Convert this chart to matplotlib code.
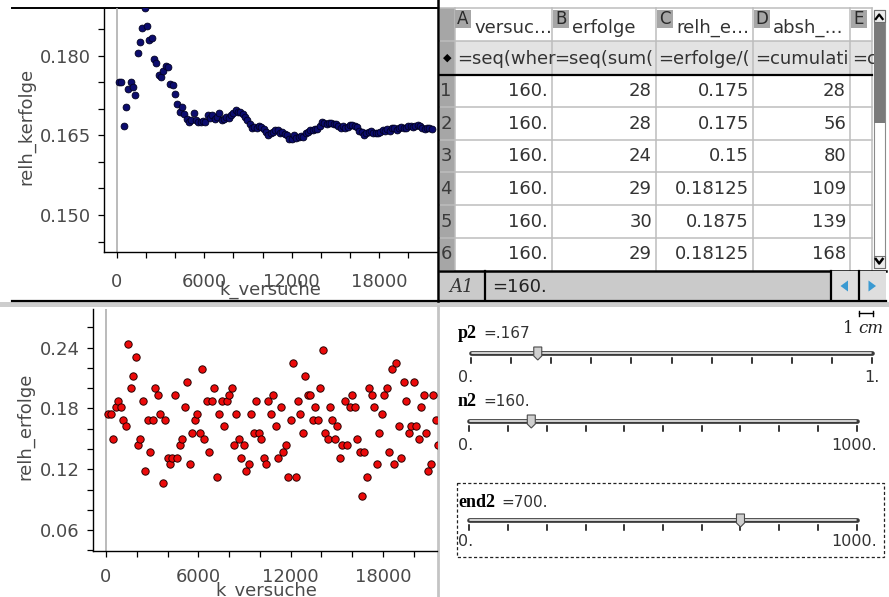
import numpy as np
import matplotlib
matplotlib.use("Agg")
import matplotlib.pyplot as plt
from matplotlib.patches import Rectangle, Polygon
from matplotlib.ticker import MultipleLocator, FuncFormatter

# ---------------------------------------------------------------- data
n2 = 160          # trials per block
p2 = 0.167        # slider p2
end2 = 700        # slider end2
n2_range = (0, 1000)
p2_range = (0, 1)
end2_range = (0, 1000)

# block index k (x axis = k * n2 trials)
block = list(range(1, 136))

# successes per block of 160 trials (lower plot: relh_erfolge = erfolge / 160)
erfolge = [28, 28, 24, 29, 30, 29, 27, 26, 39, 32,
           34, 37, 23, 24, 30, 19, 27, 22, 27, 32,
           31, 28, 17, 27, 21, 20, 21, 31, 21, 23,
           24, 29, 33, 20, 25, 27, 28, 25, 35, 24,
           30, 22, 30, 32, 18, 28, 30, 26, 30, 31,
           32, 23, 28, 24, 21, 23, 19, 20, 28, 25,
           30, 25, 24, 21, 20, 30, 28, 31, 26, 21,
           29, 22, 23, 18, 27, 36, 18, 30, 28, 25,
           34, 31, 31, 27, 29, 27, 32, 38, 25, 24,
           29, 27, 24, 26, 21, 23, 30, 23, 29, 31,
           29, 24, 22, 15, 22, 18, 32, 31, 29, 20,
           25, 28, 31, 32, 22, 35, 20, 36, 26, 21,
           33, 30, 25, 26, 33, 26, 24, 29, 31, 25,
           19, 20, 31, 27, 23]

# cumulative relative frequency (upper plot), in units of 1e-5
relh_kerfolge_e5 = [
    17500, 17500, 16667, 17031, 17375, 17500, 17411, 17266, 18056, 18250,
    18523, 18906, 18558, 18304, 18333, 17930, 17868, 17639, 17599, 17719,
    17798, 17784, 17473, 17448, 17275, 17091, 16944, 17031, 16897, 16812,
    16754, 16797, 16913, 16783, 16750, 16753, 16774, 16743, 16875, 16828,
    16875, 16801, 16846, 16918, 16792, 16807, 16848, 16836, 16875, 16925,
    16985, 16935, 16946, 16910, 16841, 16797, 16711, 16638, 16653, 16635,
    16670, 16653, 16627, 16572, 16510, 16544, 16558, 16599, 16594, 16545,
    16567, 16528, 16498, 16427, 16433, 16513, 16445, 16474, 16487, 16477,
    16535, 16570, 16604, 16607, 16625, 16628, 16667, 16747, 16735, 16715,
    16731, 16732, 16714, 16709, 16671, 16647, 16669, 16645, 16660, 16688,
    16702, 16685, 16657, 16587, 16560, 16509, 16542, 16568, 16583, 16545,
    16537, 16546, 16571, 16601, 16576, 16622, 16587, 16637, 16633, 16604,
    16637, 16655, 16646, 16643, 16675, 16672, 16658, 16670, 16691, 16683,
    16646, 16615, 16635, 16637, 16620]

# spreadsheet (first 6 rows)
col_letters = ["A", "B", "C", "D", "E"]
col_names = ["versuc\u2026", "erfolge", "relh_e\u2026", "absh_\u2026", ""]
col_formulas = ["=seq(wher", "=seq(sum(", "=erfolge/(", "=cumulati", "=c"]
tab_versuche = ["160.", "160.", "160.", "160.", "160.", "160."]
tab_erfolge = ["28", "28", "24", "29", "30", "29"]
tab_relh = ["0.175", "0.175", "0.15", "0.18125", "0.1875", "0.18125"]
tab_absh = ["28", "56", "80", "109", "139", "168"]

k_versuche = np.array(block) * n2
relh_erfolge = np.array(erfolge) / n2
relh_kerfolge = np.array(relh_kerfolge_e5) / 1e5

# ---------------------------------------------------------------- figure
W, H = 889, 597
fig = plt.figure(figsize=(W / 100, H / 100), dpi=100)
bg = fig.add_axes([0, 0, 1, 1], zorder=0)
bg.set_xlim(0, W)
bg.set_ylim(H, 0)
bg.axis("off")

FONT = "DejaVu Sans"
GRAY_TXT = "#4a4a4a"


def fax(l, t, r, b):
    return [l / W, 1 - b / H, (r - l) / W, (b - t) / H]


def style_axes(ax, xpad, ypad):
    for s in ("top", "right"):
        ax.spines[s].set_visible(False)
    for s in ("left", "bottom"):
        ax.spines[s].set_linewidth(1.0)
        ax.spines[s].set_color("black")
    ax.tick_params(which="both", direction="out", length=4.5, width=0.9,
                   color="black", labelsize=13, labelcolor=GRAY_TXT)
    ax.tick_params(axis="x", pad=xpad)
    ax.tick_params(axis="y", pad=ypad)
    ax.xaxis.set_major_locator(MultipleLocator(6000))
    ax.xaxis.set_minor_locator(MultipleLocator(2000))
    ax.xaxis.set_major_formatter(FuncFormatter(lambda v, p: f"{v:.0f}"))
    ax.set_facecolor("none")
    for lab in ax.get_xticklabels() + ax.get_yticklabels():
        lab.set_family(FONT)


# ---------------- upper plot
ax1 = fig.add_axes(fax(104, 8, 437, 252.3), zorder=2)
ax1.set_xlim(-871, 21963)
ax1.set_ylim(0.14298, 0.18898)
style_axes(ax1, xpad=10.5, ypad=5)
ax1.yaxis.set_major_locator(MultipleLocator(0.015))
ax1.yaxis.set_minor_locator(MultipleLocator(0.005))
ax1.yaxis.set_major_formatter(FuncFormatter(lambda v, p: f"{v:.3f}"))
ax1.axvline(0, color="#a8a8a8", lw=1.1, zorder=1)
ax1.scatter(k_versuche, relh_kerfolge, s=24, c="#0c0c6e",
            edgecolors="#000020", linewidths=0.6, zorder=3)

# ---------------- lower plot
ax2 = fig.add_axes(fax(93, 309, 437, 550.5), zorder=2)
ax2.set_xlim(-845, 21517)
ax2.set_ylim(0.0398, 0.2782)
style_axes(ax2, xpad=8, ypad=5)
ax2.yaxis.set_major_locator(MultipleLocator(0.06))
ax2.yaxis.set_minor_locator(MultipleLocator(0.02))
ax2.yaxis.set_major_formatter(FuncFormatter(lambda v, p: f"{v:.2f}"))
ax2.axvline(0, color="#a8a8a8", lw=1.1, zorder=1)
ax2.scatter(k_versuche, relh_erfolge, s=28, c="#ec0a0a",
            edgecolors="#2a0000", linewidths=0.7, zorder=3)

# axis titles
bg.text(26, 126, "relh_kerfolge", rotation=90, ha="center", va="center",
        fontsize=13, color=GRAY_TXT, family=FONT)
bg.text(25, 426, "relh_erfolge", rotation=90, ha="center", va="center",
        fontsize=13, color=GRAY_TXT, family=FONT)
bg.text(270, 295, "k_versuche", ha="center", va="baseline",
        fontsize=13, color=GRAY_TXT, family=FONT, zorder=5)
bg.text(266, 596, "k_versuche", ha="center", va="baseline",
        fontsize=13, color=GRAY_TXT, family=FONT, zorder=5)

# ---------------- frame / dividers
bg.plot([12, 437], [8, 8], color="black", lw=1.4, zorder=6)
bg.add_patch(Rectangle((0, 301.5), W, 5, fc="#cdcdcd", ec="none", zorder=6))
bg.plot([12, 886], [301, 301], color="black", lw=1.6, zorder=7)
bg.plot([437.5, 437.5], [0, 301], color="black", lw=1.8, zorder=7)
bg.plot([438, 438], [306, H], color="#c4c4c4", lw=2.0, zorder=6)

# ---------------- spreadsheet
TX0, TX1 = 440, 872
col_edges = [455, 552, 656, 753, 850, 872]
row_edges = [74.5, 107, 139.5, 172, 205, 237.5, 270]
bg.add_patch(Rectangle((TX0, 8), 15, 262, fc="#a6a6a6", ec="none", zorder=1))
bg.add_patch(Rectangle((455, 41), TX1 - 455, 33, fc="#e3e3e3", ec="none", zorder=1))
for x in col_edges:
    bg.plot([x, x], [8, 270], color="#bdbdbd", lw=1.1, zorder=2)
for y in [8, 41] + row_edges[1:-1]:
    bg.plot([TX0, TX1], [y, y], color="#bdbdbd", lw=1.1, zorder=2)
bg.plot([TX0, TX1], [74.5, 74.5], color="black", lw=1.6, zorder=3)

for i, (letter, name, formula) in enumerate(zip(col_letters, col_names, col_formulas)):
    x0, x1 = col_edges[i], col_edges[i + 1]
    cx = x0 + 1 if i else x0
    bg.add_patch(Rectangle((cx, 10), 16, 18, fc="#a6a6a6", ec="none", zorder=3))
    bg.text(cx + 8, 19.5, letter, ha="center", va="center", fontsize=12,
            color="#2a2a2a", family=FONT, zorder=4)
    clip = Rectangle((x0, 8), x1 - x0 - 1, 66, transform=bg.transData)
    if name:
        t = bg.text(cx + 19, 33, name, ha="left", va="baseline", fontsize=13,
                    color="#333333", family=FONT, zorder=4)
        t.set_clip_path(clip)
    t = bg.text(x0 + 2.5, 64, formula, ha="left", va="baseline", fontsize=13,
                color="#333333", family=FONT, zorder=4)
    t.set_clip_path(clip)

bg.text(447.5, 58, "\u25c6", ha="center", va="center", fontsize=8,
        color="black", family=FONT, zorder=4)

columns = [tab_versuche, tab_erfolge, tab_relh, tab_absh]
for r in range(6):
    yc = (row_edges[r] + row_edges[r + 1]) / 2 + 0.5
    bg.text(440.5, yc, str(r + 1), ha="left", va="center", fontsize=13,
            color="#3a3a3a", family=FONT, zorder=4)
    for c, vals in enumerate(columns):
        bg.text(col_edges[c + 1] - 4, yc, vals[r], ha="right", va="center",
                fontsize=13, color="#333333", family=FONT, zorder=4)

# scrollbar
bg.add_patch(Rectangle((873.5, 10), 11.5, 258, fc="white", ec="#8a8a8a", lw=0.8, zorder=3))
bg.add_patch(Rectangle((873.5, 10), 11.5, 12, fc="#ececec", ec="#707070", lw=0.8, zorder=4))
bg.plot([875.8, 879.2, 882.6], [19, 14.5, 19], color="black", lw=1.6, zorder=5)
bg.add_patch(Rectangle((874, 23), 10.5, 100, fc="#7a7a7a", ec="none", zorder=4))
bg.add_patch(Rectangle((873.5, 256), 11.5, 12, fc="#ececec", ec="#707070", lw=0.8, zorder=4))
bg.plot([875.8, 879.2, 882.6], [259, 263.5, 259], color="black", lw=1.8, zorder=5)

# status bar
bg.add_patch(Rectangle((TX0, 271), 886 - TX0, 30, fc="#cacaca", ec="none", zorder=3))
bg.plot([TX0, 886], [270.5, 270.5], color="black", lw=1.8, zorder=4)
bg.plot([485, 485], [271, 301], color="black", lw=1.6, zorder=4)
bg.text(462, 287, "A1", ha="center", va="center", fontsize=13, style="italic",
        family="DejaVu Serif", color="#333333", zorder=5)
bg.text(492, 287, "=160.", ha="left", va="center", fontsize=13,
        family=FONT, color="#222222", zorder=5)
bg.add_patch(Rectangle((831, 271), 55, 30, fc="#dedede", ec="none", zorder=4))
for x in (831, 858.5):
    bg.plot([x, x], [271, 301], color="black", lw=1.6, zorder=5)
bg.add_patch(Polygon([(840.5, 286), (848, 280.5), (848, 291.5)], closed=True,
                     fc="#3a9ad2", ec="none", zorder=5))
bg.add_patch(Polygon([(868.5, 280.5), (876, 286), (868.5, 291.5)], closed=True,
                     fc="#3a9ad2", ec="none", zorder=5))

# ---------------- sliders panel
# 1 cm scale
bg.plot([859, 873], [313, 313], color="black", lw=1.0, zorder=5)
bg.plot([859, 859], [310.5, 315.5], color="black", lw=1.0, zorder=5)
bg.plot([873, 873], [310.5, 315.5], color="black", lw=1.0, zorder=5)
bg.text(854, 333, "1", ha="right", va="baseline", fontsize=12,
        family="DejaVu Serif", color="#222222", zorder=5)
bg.text(858, 333, "cm", ha="left", va="baseline", fontsize=12, style="italic",
        family="DejaVu Serif", color="#222222", zorder=5)

fig.canvas.draw()
renderer = fig.canvas.get_renderer()


def slider(name, value_str, vmin, vmax, value, x0, x1, y_lab, y_trk, y_mm,
           min_str, max_str, max_right):
    t = bg.text(458, y_lab, name, ha="left", va="baseline", fontsize=13,
                fontweight="bold", family="Liberation Serif", color="black", zorder=5)
    bb = t.get_window_extent(renderer=renderer)
    xe = bg.transData.inverted().transform((bb.x1, 0))[0]
    bg.text(xe + 6, y_lab, "=" + value_str, ha="left", va="baseline",
            fontsize=11, family=FONT, color="#333333", zorder=5)
    # track
    bg.plot([x0, x1], [y_trk, y_trk], color="#3a3a3a", lw=3.4,
            solid_capstyle="round", zorder=5)
    bg.plot([x0 + 1, x1 - 1], [y_trk - 0.2, y_trk - 0.2], color="#ededed", lw=1.2,
            solid_capstyle="round", zorder=6)
    # ticks
    for tv in np.linspace(vmin, vmax, 11):
        xt = x0 + (tv - vmin) / (vmax - vmin) * (x1 - x0)
        bg.plot([xt, xt], [y_trk + 5, y_trk + 9.5], color="black", lw=1.1, zorder=5)
    # thumb
    xv = x0 + (value - vmin) / (vmax - vmin) * (x1 - x0)
    bg.add_patch(Polygon([(xv - 4, y_trk - 6), (xv + 4, y_trk - 6), (xv + 4, y_trk + 3),
                          (xv, y_trk + 7), (xv - 4, y_trk + 3)], closed=True,
                         fc="#cfcfcf", ec="#4a4a4a", lw=0.8, zorder=7))
    bg.text(458, y_mm, min_str, ha="left", va="center", fontsize=11.5,
            family=FONT, color="#333333", zorder=5)
    bg.text(max_right, y_mm, max_str, ha="right", va="center", fontsize=11.5,
            family=FONT, color="#333333", zorder=5)


slider("p2", ".167", p2_range[0], p2_range[1], p2, 470.7, 872.3, 338, 353, 378,
       "0.", "1.", 880)
slider("n2", "160.", n2_range[0], n2_range[1], n2, 469.3, 856.7, 406, 421, 445,
       "0.", "1000.", 877)
bg.add_patch(Rectangle((457, 483), 427, 74, fc="none", ec="#222222", lw=0.9,
                       ls=(0, (2.5, 1.8)), zorder=5))
slider("end2", "700.", end2_range[0], end2_range[1], end2, 469.3, 856.7, 507, 520, 542,
       "0.", "1000.", 877)

fig.savefig("out.png", dpi=100)
